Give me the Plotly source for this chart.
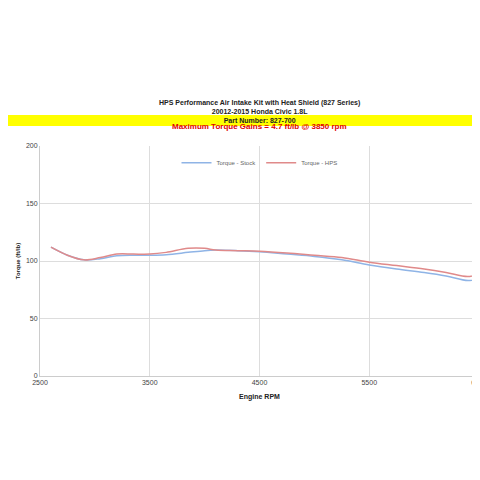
import plotly.graph_objects as go

# -------------------------
# Data
# -------------------------
RPM = [2600, 2750, 2900, 3050, 3200, 3350, 3500, 3650, 3850, 4000, 4100, 4300, 4500, 4750, 5000, 5250, 5500, 5750, 6000, 6200, 6400, 6500]
STOCK = [112, 105, 101, 102, 104.5, 105, 105, 105.5, 107.5, 109, 109.5, 109, 108, 106, 104, 101, 96.5, 93, 90, 87, 83, 85]
HPS = [112, 105, 101, 103, 106, 106, 106, 107.5, 111, 111, 109.5, 109, 108.5, 107, 105, 103, 99, 96, 93, 90, 86.5, 89]

X_TICKS = [2500, 3500, 4500, 5500, 6500]
Y_TICKS = [0, 50, 100, 150, 200]

fig = go.Figure()
fig.add_trace(go.Scatter(x=RPM, y=STOCK, name="Torque - Stock", mode="lines",
                         line=dict(color="#8fb4e6", width=1.5, shape="spline")))
fig.add_trace(go.Scatter(x=RPM, y=HPS, name="Torque - HPS", mode="lines",
                         line=dict(color="#e08a8a", width=1.5, shape="spline")))

title_font = dict(family="Liberation Sans", size=7, color="#222")
fig.update_layout(
    width=480, height=480,
    paper_bgcolor="white", plot_bgcolor="white",
    margin=dict(l=32, r=9, t=138, b=112),
    font=dict(family="Liberation Sans", size=7, color="#444"),
    showlegend=True,
    legend=dict(orientation="h", x=0.5, xanchor="center", y=0.99, yanchor="top",
                font=dict(size=6, color="#666"), bgcolor="rgba(0,0,0,0)",
                itemwidth=30),
    xaxis=dict(range=[2500, 6500], tickvals=X_TICKS, showgrid=True, gridcolor="#dddddd",
               zeroline=False, showline=True, linecolor="#cccccc", automargin=False,
               title=dict(text="<b>Engine RPM</b>", font=dict(size=7, color="#222"), standoff=8)),
    yaxis=dict(range=[0, 200], tickvals=Y_TICKS, showgrid=True, gridcolor="#dddddd",
               zeroline=False, showline=True, linecolor="#cccccc", automargin=False,
               title=dict(text="<b>Torque (ft/lb)</b>", font=dict(size=6, color="#222"), standoff=4)),
    shapes=[dict(type="rect", xref="paper", yref="paper", x0=-0.08, x1=1.03, y0=1.087, y1=1.135,
                 fillcolor="#ffff00", line=dict(width=0), layer="below")],
    annotations=[
        dict(text="<b>HPS Performance Air Intake Kit with Heat Shield (827 Series)<br>20012-2015 Honda Civic 1.8L<br>Part Number: 827-700</b>",
             xref="paper", yref="paper", x=0.5, y=1.215, showarrow=False, font=title_font, align="center"),
        dict(text="<b>Maximum Torque Gains = 4.7 ft/lb @ 3850 rpm</b>",
             xref="paper", yref="paper", x=0.5, y=1.111, showarrow=False,
             font=dict(family="Liberation Sans", size=8, color="#e00000")),
    ],
)

fig.write_html("out.html")
